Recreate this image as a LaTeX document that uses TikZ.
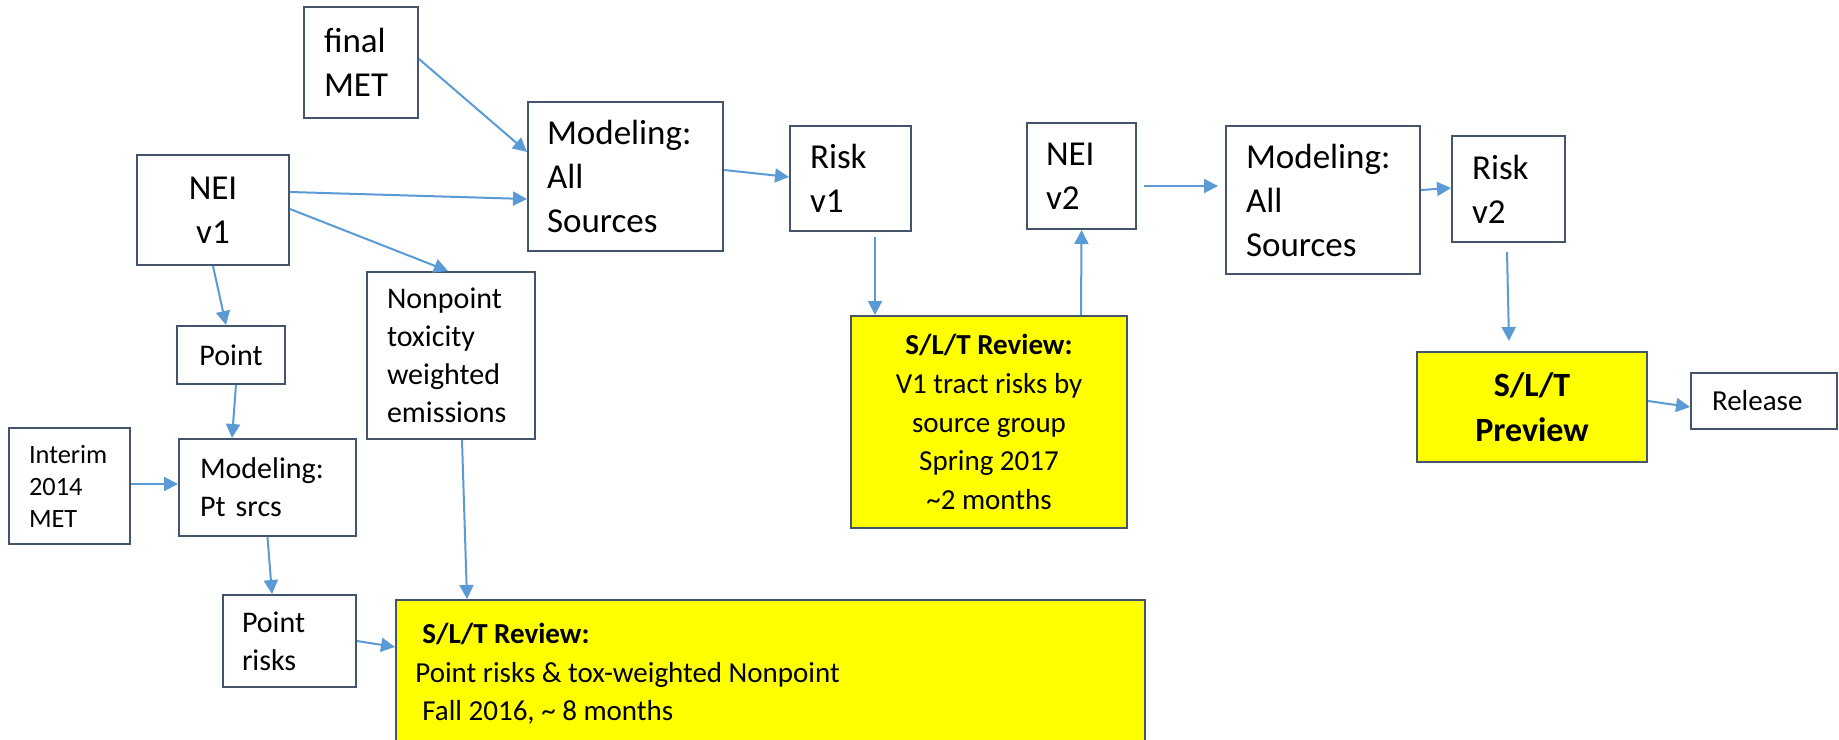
\documentclass[tikz,border=0pt]{standalone}
\usepackage{fontspec}
\setmainfont{Carlito}
\usetikzlibrary{arrows.meta,calc}

\definecolor{boxline}{HTML}{44546A}
\definecolor{flowblue}{HTML}{5B9BD5}
\definecolor{hilite}{HTML}{FFFF00}

\begin{document}
\begin{tikzpicture}[
  x=0.5pt, y=-0.5pt,
  box/.style={draw=boxline, line width=1pt, fill=white, inner ysep=0pt, text=black},
  ybox/.style={box, fill=hilite},
  sz/.style 2 args={minimum width=#1*0.5pt, minimum height=#2*0.5pt},
  fbig/.style={font=\fontsize{17.5pt}{22pt}\selectfont},
  fmid/.style={font=\fontsize{15pt}{19pt}\selectfont},
  frev/.style={font=\fontsize{14.5pt}{19.3pt}\selectfont},
  fpre/.style={font=\fontsize{17pt}{22.5pt}\selectfont\bfseries},
  fsml/.style={font=\fontsize{13.2pt}{16pt}\selectfont},
  arr/.style={draw=flowblue, line width=1pt, -{Triangle[length=7pt,width=7pt]}}
]
\useasboundingbox (0,0) rectangle (1839,739);
\fill[white] (0,0) rectangle (1839,739);
\clip (0,0) rectangle (1839,739);

% upper row: meteorology, inventory and all-source modeling
\node[box, fbig, sz={114}{111}, inner xsep=10pt, text width=37pt, align=left] (finalmet) at (361,62.5) {final\\MET};
\node[box, fbig, sz={152}{110}, align=center] (nei1) at (213,210) {NEI\\v1};
\node[box, fbig, sz={195}{149}, inner xsep=9.5pt, text width=78.5pt, align=left] (mod1) at (625.5,176.5) {Modeling:\\All\\Sources};
\node[box, fbig, sz={121}{105}, inner xsep=10pt, text width=40.5pt, align=left] (risk1) at (850.5,178.5) {Risk\\v1};
\node[box, fbig, sz={109}{106}, inner xsep=9.5pt, text width=35.5pt, align=left] (nei2) at (1081.5,176) {NEI\\v2};
\node[box, fbig, sz={194}{148}, inner xsep=10pt, text width=77pt, align=left] (mod2) at (1323,200) {Modeling:\\All\\Sources};
\node[box, fbig, sz={113}{106}, inner xsep=10pt, text width=36.5pt, align=left] (risk2) at (1508.5,189) {Risk\\v2};

% reviews and release
\node[ybox, frev, sz={276}{212}, align=center] (rev1) at (989,422)
  {\textbf{S/L/T Review:}\\V1 tract risks by\\source group\\Spring 2017\\\textasciitilde2 months};
\node[ybox, fpre, sz={230}{110}, align=center] (preview) at (1532,407) {S/L/T\\Preview};
\node[box, frev, sz={146}{56}, inner xsep=10.5pt, text width=52pt, align=left] (release) at (1764,401) {Release};

% point / nonpoint branch
\node[box, fmid, sz={108}{58}, align=center] (point) at (231,355) {Point};
\node[box, fmid, sz={168}{167}, inner xsep=10pt, text width=64pt, align=left] (nonpoint) at (451,355.5)
  {Nonpoint\\toxicity\\weighted\\emissions};
\node[box, fsml, sz={121}{116}, inner xsep=10pt, text width=40.5pt, align=left] (interim) at (69.5,486) {Interim\\2014\\MET};
\node[box, fmid, sz={177}{97}, inner xsep=10.5pt, text width=67.5pt, align=left] (modpt) at (267.5,487.5) {Modeling:\\Pt srcs};
\node[box, fmid, sz={133}{92}, inner xsep=9.5pt, text width=47.5pt, align=left] (ptrisks) at (289.5,641) {Point\\risks};

\node[ybox, sz={749}{160}, anchor=north west] (rev2) at (395,599) {};
\node[frev, anchor=north west, inner sep=0pt, align=left] (rev2txt) at ($(rev2.north west)+(20,17)$)
  {\strut\hspace*{3.5pt}\textbf{S/L/T Review:}\\Point risks \& tox-weighted Nonpoint\\\hspace*{3.5pt}Fall 2016, \textasciitilde{} 8 months};

% connectors
\draw[arr] ($(finalmet.north east)+(0,53)$) -- ($(mod1.north west)+(0,51)$);
\draw[arr] ($(nei1.north east)+(0,38)$) -- ($(mod1.north west)+(0,98)$);
\draw[arr] ($(nei1.north east)+(0,55)$) -- ($(nonpoint.north west)+(82,0)$);
\draw[arr] (nei1.south) -- ($(point.north west)+(50,0)$);
\draw[arr] ($(point.south)+(5,0)$) -- ($(modpt.north west)+(54,0)$);
\draw[arr] ($(interim.north east)+(0,57)$) -- ($(modpt.north west)+(0,46)$);
\draw[arr] (modpt.south) -- ($(ptrisks.north west)+(50,0)$);
\draw[arr] ($(nonpoint.south west)+(96,0)$) -- ($(rev2.north west)+(72,0)$);
\draw[arr] (ptrisks.east) -- ($(rev2.north west)+(0,48)$);
\draw[arr] ($(mod1.north east)+(0,69)$) -- ($(risk1.north west)+(0,52)$);
\draw[arr] ($(risk1.south west)+(86,5)$) -- ($(rev1.north west)+(25,0)$);
\draw[arr] ($(rev1.north west)+(231,0)$) -- (nei2.south);
\draw[arr] ($(nei2.north east)+(7,64)$) -- ($(mod2.north west)+(-7,61)$);
\draw[arr] ($(mod2.north east)+(0,65)$) -- ($(risk2.north west)+(0,53)$);
\draw[arr] ($(risk2.south)+(-1.5,9)$) -- ($(preview.north west)+(93,-10)$);
\draw[arr] ($(preview.north east)+(0,50)$) -- ($(release.west)+(0,6)$);
\end{tikzpicture}
\end{document}
